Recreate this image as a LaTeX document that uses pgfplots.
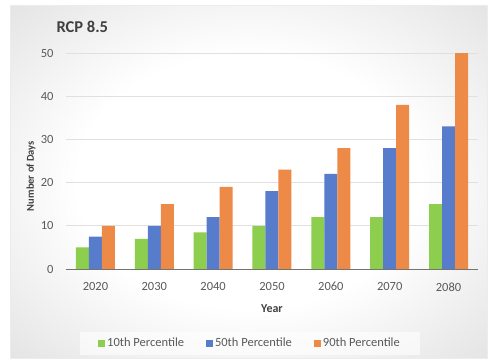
\documentclass[border=0pt]{standalone}
\usepackage{pgfplots}
\pgfplotsset{compat=1.18}
\usepackage{fontspec}
\setmainfont{Carlito}
\definecolor{cgreen}{RGB}{142,206,78}
\definecolor{cblue}{RGB}{88,124,204}
\definecolor{corange}{RGB}{238,138,72}
\definecolor{ctext}{RGB}{89,89,89}
\definecolor{ctitle}{RGB}{64,64,64}
\pgfdeclareradialshading{panel}{\pgfpoint{0bp}{0bp}}{color(0bp)=(white); color(18bp)=(white); color(71bp)=(black!32)}
\begin{document}
\begin{tikzpicture}[x=1pt,y=1pt]
\useasboundingbox (0,0) rectangle (491,360);
\fill[white] (0,0) rectangle (491,360);
\shade[shading=panel] (10,2) rectangle (487,355);
\draw[white!85!gray, line width=0.6pt] (10,2) rectangle (487,355);
\fill[white, opacity=0.6] (80,5) rectangle (420,28);
\begin{axis}[
  at={(66pt,91pt)}, anchor=south west,
  scale only axis, width=412pt, height=216pt,
  xmin=-0.5, xmax=6.5, ymin=0, ymax=50,
  ybar=0pt, bar width=13pt,
  axis line style={draw=none},
  major tick length=0pt,
  xtick={0,...,6},
  xticklabels={2020,2030,2040,2050,2060,2070,2080},
  ytick={0,10,20,30,40,50},
  /pgf/number format/assume math mode=true,
  ymajorgrids, grid style={black!12, line width=0.8pt},
  tick label style={font=\fontsize{12.5}{15}\selectfont, text=ctext},
  xticklabel style={yshift=-10pt},
  yticklabel style={xshift=-9pt},
  legend columns=3,
  legend style={at={(0.4466,-0.3426)}, anchor=center, draw=none, fill=none,
    font=\fontsize{12.5}{15}\selectfont, text=ctext,
    /tikz/every even column/.append style={column sep=20pt}},
  legend image code/.code={\fill[#1] (0pt,-3.5pt) rectangle (7pt,3.5pt);},
]
\addplot[fill=cgreen, draw=none] coordinates {(0,5) (1,7) (2,8.5) (3,10) (4,12) (5,12) (6,15)};
\addplot[fill=cblue, draw=none] coordinates {(0,7.5) (1,10) (2,12) (3,18) (4,22) (5,28) (6,33)};
\addplot[fill=corange, draw=none] coordinates {(0,10) (1,15) (2,19) (3,23) (4,28) (5,38) (6,50)};
\legend{10th Percentile, 50th Percentile, 90th Percentile}
\draw[black!55, line width=1pt] (axis cs:-0.5,0) -- (axis cs:6.5,0);
\end{axis}
\node[anchor=west, text=ctitle, font=\fontsize{16.5}{18}\selectfont\bfseries] at (53,333) {RCP 8.5};
\node[rotate=90, text=ctitle, font=\fontsize{10.5}{12}\selectfont\bfseries] at (31,184) {Number of Days};
\node[text=ctitle, font=\fontsize{12}{14}\selectfont\bfseries] at (272,51) {Year};
\end{tikzpicture}
\end{document}
